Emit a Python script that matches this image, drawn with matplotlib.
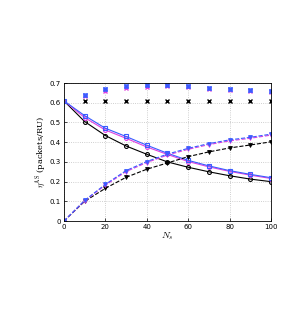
import numpy as np
import matplotlib
matplotlib.use('Agg')
import matplotlib.pyplot as plt

plt.rcParams['mathtext.fontset'] = 'cm'

ns = [0, 10, 20, 30, 40, 50, 60, 70, 80, 90, 100]

# solid curves
solid_black = [0.61, 0.505, 0.434, 0.381, 0.339, 0.300, 0.273, 0.250, 0.230, 0.213, 0.200]
solid_magenta = [0.61, 0.525, 0.462, 0.420, 0.376, 0.338, 0.302, 0.275, 0.252, 0.233, 0.216]
solid_blue = [0.61, 0.535, 0.471, 0.429, 0.385, 0.344, 0.308, 0.280, 0.256, 0.237, 0.220]

# dashed curves
dash_black = [0.0, 0.100, 0.166, 0.222, 0.263, 0.295, 0.327, 0.351, 0.371, 0.386, 0.402]
dash_magenta = [0.0, 0.103, 0.182, 0.251, 0.297, 0.335, 0.364, 0.388, 0.407, 0.420, 0.436]
dash_blue = [0.0, 0.105, 0.186, 0.256, 0.302, 0.340, 0.369, 0.393, 0.412, 0.425, 0.441]

# cross markers
ns_x = [10, 20, 30, 40, 50, 60, 70, 80, 90, 100]
cross_black = [0.61, 0.61, 0.61, 0.61, 0.61, 0.61, 0.61, 0.61, 0.61, 0.61]
cross_magenta = [0.632, 0.660, 0.676, 0.681, 0.684, 0.679, 0.671, 0.666, 0.660, 0.655]
cross_blue = [0.640, 0.670, 0.683, 0.688, 0.688, 0.683, 0.675, 0.670, 0.664, 0.659]

fig = plt.figure(figsize=(3.07, 3.11), dpi=100)
ax = fig.add_axes([0.208, 0.289, 0.675, 0.444])

ms = 2.8
ax.plot(ns, solid_black, '-', color='black', lw=0.8, marker='o', ms=ms, mfc='none', mew=0.8)
ax.plot(ns, solid_magenta, '-', color='#e040e0', lw=0.8, marker='o', ms=ms, mfc='none', mew=0.8)
ax.plot(ns, solid_blue, '-', color='#3a5cff', lw=0.8, marker='s', ms=ms, mfc='none', mew=0.8)

ax.plot(ns, dash_black, '--', color='black', lw=0.8, marker='v', ms=ms, mew=0.6)
ax.plot(ns, dash_magenta, '--', color='#e040e0', lw=0.8, marker='v', ms=ms, mew=0.6)
ax.plot(ns, dash_blue, '--', color='#3a5cff', lw=0.8, marker='v', ms=ms, mew=0.6)

ax.plot(ns_x, cross_black, 'x', color='black', ms=2.6, mew=1.0)
ax.plot(ns_x, cross_magenta, 'x', color='#e040e0', ms=2.6, mew=1.0)
ax.plot(ns_x, cross_blue, 's', color='#3a5cff', ms=2.2, mfc='none', mew=0.5)
ax.plot(ns_x, cross_blue, 'x', color='#3a5cff', ms=2.6, mew=1.0)

ax.set_xlim(0, 100)
ax.set_ylim(0, 0.7)
ax.set_xticks([0, 20, 40, 60, 80, 100])
ax.set_yticks(np.arange(0, 0.71, 0.1))
ax.set_yticklabels(['0', '0.1', '0.2', '0.3', '0.4', '0.5', '0.6', '0.7'])
ax.tick_params(labelsize=5, direction='in', length=2, width=0.5, pad=2)
ax.grid(True, linestyle=':', color='#c0c0c0', lw=0.6)
for s in ax.spines.values():
    s.set_linewidth(0.6)

ax.set_xlabel(r'$N_s$', fontsize=7, labelpad=0)
ax.set_ylabel(r'$\eta^{\mathrm{AS}}$ (packets/RU)', fontsize=6, labelpad=1, family='serif')

fig.savefig('out.png', dpi=100)
